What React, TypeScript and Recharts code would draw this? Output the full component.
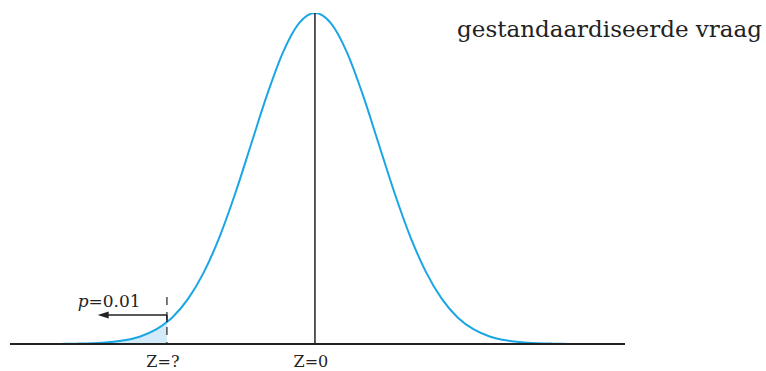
import React from 'react'
import { ComposedChart, Line, Area, XAxis, YAxis, ReferenceLine } from 'recharts'

// standard normal density, read at steps of 0.25 (plus the cut-off point)
const zValues = [
  -4.25, -4, -3.75, -3.5, -3.25, -3, -2.75, -2.5, -2.33, -2.25, -2, -1.75, -1.5, -1.25, -1, -0.75, -0.5, -0.25,
  0, 0.25, 0.5, 0.75, 1, 1.25, 1.5, 1.75, 2, 2.25, 2.5, 2.75, 3, 3.25, 3.5, 3.75, 4, 4.25, 4.5,
]
const density = [
  0.0000, 0.0001, 0.0004, 0.0009, 0.0020, 0.0044, 0.0091, 0.0175, 0.0264, 0.0317, 0.0540, 0.0863, 0.1295, 0.1826, 0.2420, 0.3011, 0.3521, 0.3867,
  0.3989, 0.3867, 0.3521, 0.3011, 0.2420, 0.1826, 0.1295, 0.0863, 0.0540, 0.0317, 0.0175, 0.0091, 0.0044, 0.0020, 0.0009, 0.0004, 0.0001, 0.0000, 0.0000,
]
const zCut = -2.33
const tickValues = [-2.33, 0]
const tickLabels = ['Z=?', 'Z=0']

const data = zValues.map((z, i) => ({
  z,
  y: density[i],
  tail: z <= zCut ? density[i] : null,
}))

const BLUE = '#1aa6e4'
const INK = '#222'
const FONT = '"DejaVu Serif", serif'

const Arrow = (props: any) => {
  const { x1, y1, x2, y2 } = props
  return (
    <g>
      <line x1={x1} y1={y1} x2={x2 + 8} y2={y2} stroke={INK} strokeWidth={1.5} />
      <polygon points={`${x2},${y2} ${x2 + 11},${y2 - 3.5} ${x2 + 11},${y2 + 3.5}`} fill={INK} />
      <text x={x2 - 20} y={y2 - 8} fontFamily={FONT} fontSize={17} fill={INK}>
        <tspan fontStyle="italic">p</tspan>=0.01
      </text>
    </g>
  )
}

const ZTick = (props: any) => {
  const { x, y, payload } = props
  const label = tickLabels[tickValues.indexOf(payload.value)]
  return (
    <text x={x - 4} y={y + 11} textAnchor="middle" fontFamily={FONT} fontSize={16} fill={INK}>
      {label}
    </text>
  )
}

export default function App() {
  return (
    <div style={{ position: 'absolute', left: 0, top: 0, width: 766, height: 371, background: '#fff' }}>
      <div
        style={{
          position: 'absolute',
          right: 4,
          top: 15,
          fontFamily: FONT,
          fontSize: 23,
          color: INK,
          lineHeight: '28px',
        }}
      >
        gestandaardiseerde vraag
      </div>
      <ComposedChart width={766} height={371} data={data} margin={{ top: 13, right: 141, left: 10, bottom: 0 }}>
        <XAxis
          dataKey="z"
          type="number"
          domain={[-4.8, 4.88]}
          allowDataOverflow
          ticks={tickValues}
          tickLine={false}
          tickMargin={6}
          height={27}
          axisLine={{ stroke: INK, strokeWidth: 2 }}
          tick={ZTick}
        />
        <YAxis hide domain={[0, 0.3989]} allowDataOverflow />
        <Area
          dataKey="tail"
          type="monotone"
          stroke="none"
          fill="#d3ebf8"
          fillOpacity={1}
          isAnimationActive={false}
        />
        <Line dataKey="y" type="monotone" stroke={BLUE} strokeWidth={2} dot={false} isAnimationActive={false} />
        <ReferenceLine
          segment={[{ x: 0, y: 0 }, { x: 0, y: 0.3989 }]}
          stroke={INK}
          strokeWidth={1.5}
        />
        <ReferenceLine
          segment={[{ x: zCut, y: 0.0566 }, { x: zCut, y: 0 }]}
          stroke={INK}
          strokeWidth={1.2}
          strokeDasharray="8 7"
        />
        <ReferenceLine
          segment={[{ x: zCut, y: 0.0349 }, { x: zCut, y: 0.0264 }]}
          stroke={INK}
          strokeWidth={1.5}
        />
        <ReferenceLine segment={[{ x: zCut, y: 0.0349 }, { x: -3.42, y: 0.0349 }]} shape={Arrow} />
      </ComposedChart>
    </div>
  )
}
